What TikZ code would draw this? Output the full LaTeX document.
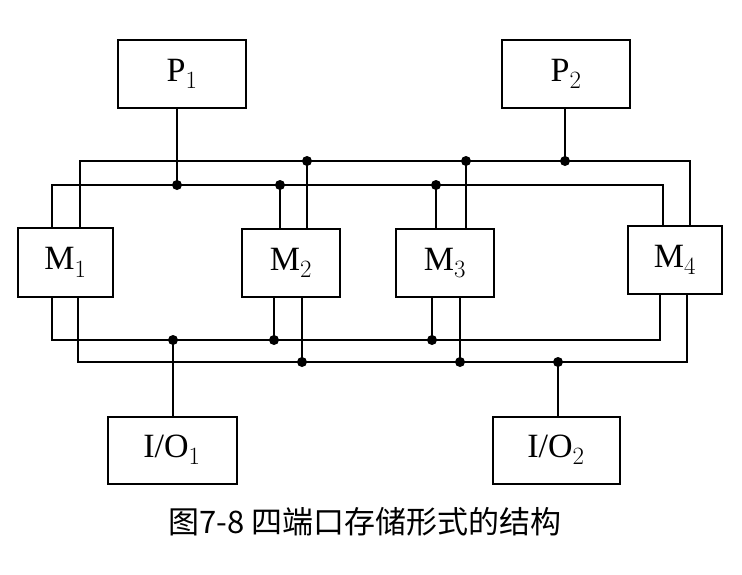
\documentclass[tikz,border=0pt]{standalone}
\usepackage{fontspec}
\setmainfont{Liberation Serif}
\newfontfamily\cjk{Noto Sans CJK SC}
\begin{document}
\begin{tikzpicture}[x=1pt,y=-1pt,line width=1.3pt,
  box/.style={draw,line width=2pt,font=\fontsize{34}{36}\selectfont,inner sep=0pt},
  dot/.style={circle,fill,inner sep=0pt,minimum size=10pt},
  wire/.style={line width=1.4pt}]
\useasboundingbox (0,0) rectangle (742,574);
\node[box,minimum width=128pt,minimum height=68pt] (P1) at (182,74) {P$_1$};
\node[box,minimum width=128pt,minimum height=68pt] (P2) at (566,74) {P$_2$};
\node[box,minimum width=95pt,minimum height=69pt] (M1) at (65.5,262.5) {M$_1$};
\node[box,minimum width=98pt,minimum height=68pt] (M2) at (291,263) {M$_2$};
\node[box,minimum width=98pt,minimum height=68pt] (M3) at (445,263) {M$_3$};
\node[box,minimum width=94pt,minimum height=68pt] (M4) at (675,260) {M$_4$};
\node[box,minimum width=129pt,minimum height=67pt] (IO1) at (172,450) {I/O$_1$};
\node[box,minimum width=127pt,minimum height=67pt] (IO2) at (556,450) {I/O$_2$};
\node (cap) at (365,522) {\cjk\fontsize{31}{34}\selectfont 图7-8 四端口存储形式的结构};
% bus coordinates
\coordinate (A1) at (80,161); \coordinate (A2) at (690,161);
\coordinate (B1) at (52,185); \coordinate (B2) at (663,185);
\coordinate (C1) at (52,340); \coordinate (C2) at (660,340);
\coordinate (D1) at (78,362); \coordinate (D2) at (687,362);
\coordinate (a1) at (307,161); \coordinate (a2) at (466,161); \coordinate (a3) at (565,161);
\coordinate (b1) at (177,185); \coordinate (b2) at (280,185); \coordinate (b3) at (436,185);
\coordinate (c1) at (173,340); \coordinate (c2) at (274,340); \coordinate (c3) at (432,340);
\coordinate (d1) at (302,362); \coordinate (d2) at (460,362); \coordinate (d3) at (558,362);
% buses
\draw[wire] (M1.north -| A1) -- (A1) -- (A2) -- (M4.north -| A2);
\draw[wire] (M1.north -| B1) -- (B1) -- (B2) -- (M4.north -| B2);
\draw[wire] (M1.south -| C1) -- (C1) -- (C2) -- (M4.south -| C2);
\draw[wire] (M1.south -| D1) -- (D1) -- (D2) -- (M4.south -| D2);
% taps
\draw[wire] (P1.south -| b1) -- (b1);
\draw[wire] (P2.south -| a3) -- (a3);
\draw[wire] (M2.north -| b2) -- (b2);
\draw[wire] (M2.north -| a1) -- (a1);
\draw[wire] (M3.north -| b3) -- (b3);
\draw[wire] (M3.north -| a2) -- (a2);
\draw[wire] (M2.south -| c2) -- (c2);
\draw[wire] (M2.south -| d1) -- (d1);
\draw[wire] (M3.south -| c3) -- (c3);
\draw[wire] (M3.south -| d2) -- (d2);
\draw[wire] (IO1.north -| c1) -- (c1);
\draw[wire] (IO2.north -| d3) -- (d3);
\foreach \p in {a1,a2,a3,b1,b2,b3,c1,c2,c3,d1,d2,d3} \node[dot] at (\p) {};
\end{tikzpicture}
\end{document}
